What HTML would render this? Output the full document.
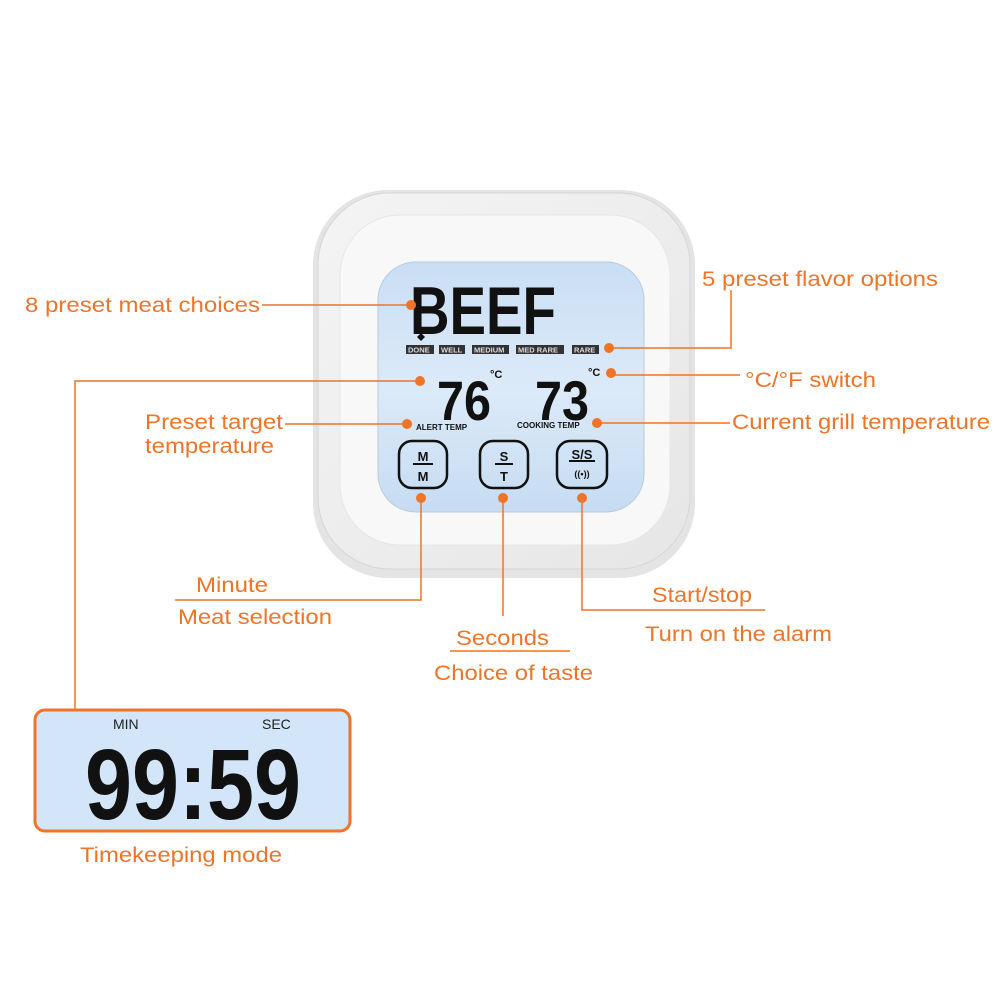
<!DOCTYPE html>
<html><head><meta charset="utf-8"><style>
html,body{margin:0;padding:0;background:#fff;}
svg{display:block}
.o{font-family:"Liberation Sans",sans-serif;font-size:21px;fill:#ee7427}
.k{font-family:"Liberation Sans",sans-serif;font-weight:bold;fill:#111}
</style></head><body>
<svg width="1000" height="1000" viewBox="0 0 1000 1000" xmlns="http://www.w3.org/2000/svg">
<defs>
<linearGradient id="lcd" x1="0" y1="0" x2="0" y2="1"><stop offset="0" stop-color="#c9def5"/><stop offset="0.5" stop-color="#dceaf8"/><stop offset="1" stop-color="#c6dcf3"/></linearGradient>
<linearGradient id="body" x1="0" y1="0" x2="1" y2="1"><stop offset="0" stop-color="#f4f4f4"/><stop offset="1" stop-color="#e6e6e6"/></linearGradient>
</defs>
<rect x="313" y="190" width="382" height="388" rx="75" fill="#e4e4e4"/>
<rect x="318" y="193" width="372" height="376" rx="72" fill="url(#body)" stroke="#d6d6d6"/>
<rect x="340" y="215" width="330" height="330" rx="60" fill="#f8f8f8" stroke="#e6e6e6"/>
<rect x="378" y="262" width="266" height="250" rx="38" fill="url(#lcd)" stroke="#b9c9dc"/>
<text class="k" x="410" y="334" font-size="68" textLength="146" lengthAdjust="spacingAndGlyphs">BEEF</text>
<g font-family="Liberation Sans,sans-serif" font-weight="bold">
<rect x="406" y="345" width="28" height="9" fill="#333"/><text x="408" y="352.5" fill="#ddd" font-size="7.5">DONE</text>
<rect x="439" y="345" width="26" height="9" fill="#333"/><text x="441" y="352.5" fill="#ddd" font-size="7.5">WELL</text>
<rect x="472" y="345" width="37" height="9" fill="#333"/><text x="474" y="352.5" fill="#ddd" font-size="7.5">MEDIUM</text>
<rect x="516" y="345" width="48" height="9" fill="#333"/><text x="518" y="352.5" fill="#ddd" font-size="7.5">MED RARE</text>
<rect x="572" y="345" width="27" height="9" fill="#333"/><text x="574" y="352.5" fill="#ddd" font-size="7.5">RARE</text>
</g>
<polygon points="417,337 421,333 425,337 421,341" fill="#111"/>
<text class="k" x="437" y="420" font-size="56" textLength="54" lengthAdjust="spacingAndGlyphs">76</text>
<text class="k" x="535" y="420" font-size="56" textLength="54" lengthAdjust="spacingAndGlyphs">73</text>
<text class="k" x="490" y="378" font-size="11">°C</text>
<text class="k" x="588" y="376" font-size="11">°C</text>
<text class="k" x="416" y="430" font-size="8">ALERT TEMP</text>
<text class="k" x="517" y="428" font-size="8">COOKING TEMP</text>
<g fill="none" stroke="#111" stroke-width="2.5">
<rect x="399" y="441" width="48" height="47" rx="13"/>
<rect x="480" y="441" width="48" height="47" rx="13"/>
<rect x="557" y="441" width="50" height="47" rx="13"/>
</g>
<g stroke="#111" stroke-width="2"><line x1="413" y1="464" x2="433" y2="464"/><line x1="495" y1="464" x2="513" y2="464"/><line x1="569" y1="461" x2="595" y2="461"/></g>
<text class="k" x="423" y="461" font-size="13" text-anchor="middle">M</text>
<text class="k" x="423" y="481" font-size="13" text-anchor="middle">M</text>
<text class="k" x="504" y="461" font-size="13" text-anchor="middle">S</text>
<text class="k" x="504" y="481" font-size="13" text-anchor="middle">T</text>
<text class="k" x="582" y="459" font-size="13" text-anchor="middle">S/S</text>
<text class="k" x="582" y="477" font-size="9" text-anchor="middle">((•))</text>
<g stroke="#ee7427" stroke-width="1.5" fill="none">
<line x1="262" y1="305" x2="411" y2="305"/>
<polyline points="731,290 731,348 609,348"/>
<line x1="611" y1="375" x2="740" y2="375"/>
<polyline points="420,381 75,381 75,710"/>
<line x1="285" y1="424" x2="407" y2="424"/>
<line x1="597" y1="423" x2="730" y2="423"/>
<polyline points="421,498 421,600 175,600"/>
<line x1="503" y1="498" x2="503" y2="616"/>
<polyline points="582,498 582,610 765,610"/>
<line x1="450" y1="651" x2="570" y2="651"/>
</g>
<g fill="#ee7427">
<circle cx="411" cy="305" r="5"/><circle cx="609" cy="348" r="5"/><circle cx="611" cy="373" r="5"/>
<circle cx="420" cy="381" r="5"/><circle cx="407" cy="424" r="5"/><circle cx="597" cy="423" r="5"/>
<circle cx="421" cy="498" r="5"/><circle cx="503" cy="498" r="5"/><circle cx="582" cy="498" r="5"/>
</g>
<text class="o" x="25" y="312" textLength="235" lengthAdjust="spacingAndGlyphs">8 preset meat choices</text>
<text class="o" x="702" y="286" textLength="236" lengthAdjust="spacingAndGlyphs">5 preset flavor options</text>
<text class="o" x="745" y="387" textLength="131" lengthAdjust="spacingAndGlyphs">°C/°F switch</text>
<text class="o" x="145" y="429" textLength="138" lengthAdjust="spacingAndGlyphs">Preset target</text>
<text class="o" x="145" y="453" textLength="129" lengthAdjust="spacingAndGlyphs">temperature</text>
<text class="o" x="732" y="429" textLength="258" lengthAdjust="spacingAndGlyphs">Current grill temperature</text>
<text class="o" x="196" y="592" textLength="72" lengthAdjust="spacingAndGlyphs">Minute</text>
<text class="o" x="178" y="624" textLength="154" lengthAdjust="spacingAndGlyphs">Meat selection</text>
<text class="o" x="456" y="645" textLength="93" lengthAdjust="spacingAndGlyphs">Seconds</text>
<text class="o" x="434" y="680" textLength="159" lengthAdjust="spacingAndGlyphs">Choice of taste</text>
<text class="o" x="652" y="602" textLength="100" lengthAdjust="spacingAndGlyphs">Start/stop</text>
<text class="o" x="645" y="641" textLength="187" lengthAdjust="spacingAndGlyphs">Turn on the alarm</text>
<rect x="35" y="710" width="315" height="121" rx="10" fill="#d3e5f8" stroke="#ee7427" stroke-width="3"/>
<text x="113" y="729" font-family="Liberation Sans,sans-serif" font-size="14" fill="#222">MIN</text>
<text x="262" y="729" font-family="Liberation Sans,sans-serif" font-size="14" fill="#222">SEC</text>
<text class="k" x="85" y="819" font-size="100" textLength="216" lengthAdjust="spacingAndGlyphs">99:59</text>
<text class="o" x="80" y="862" textLength="202" lengthAdjust="spacingAndGlyphs">Timekeeping mode</text>
</svg>
</body></html>
